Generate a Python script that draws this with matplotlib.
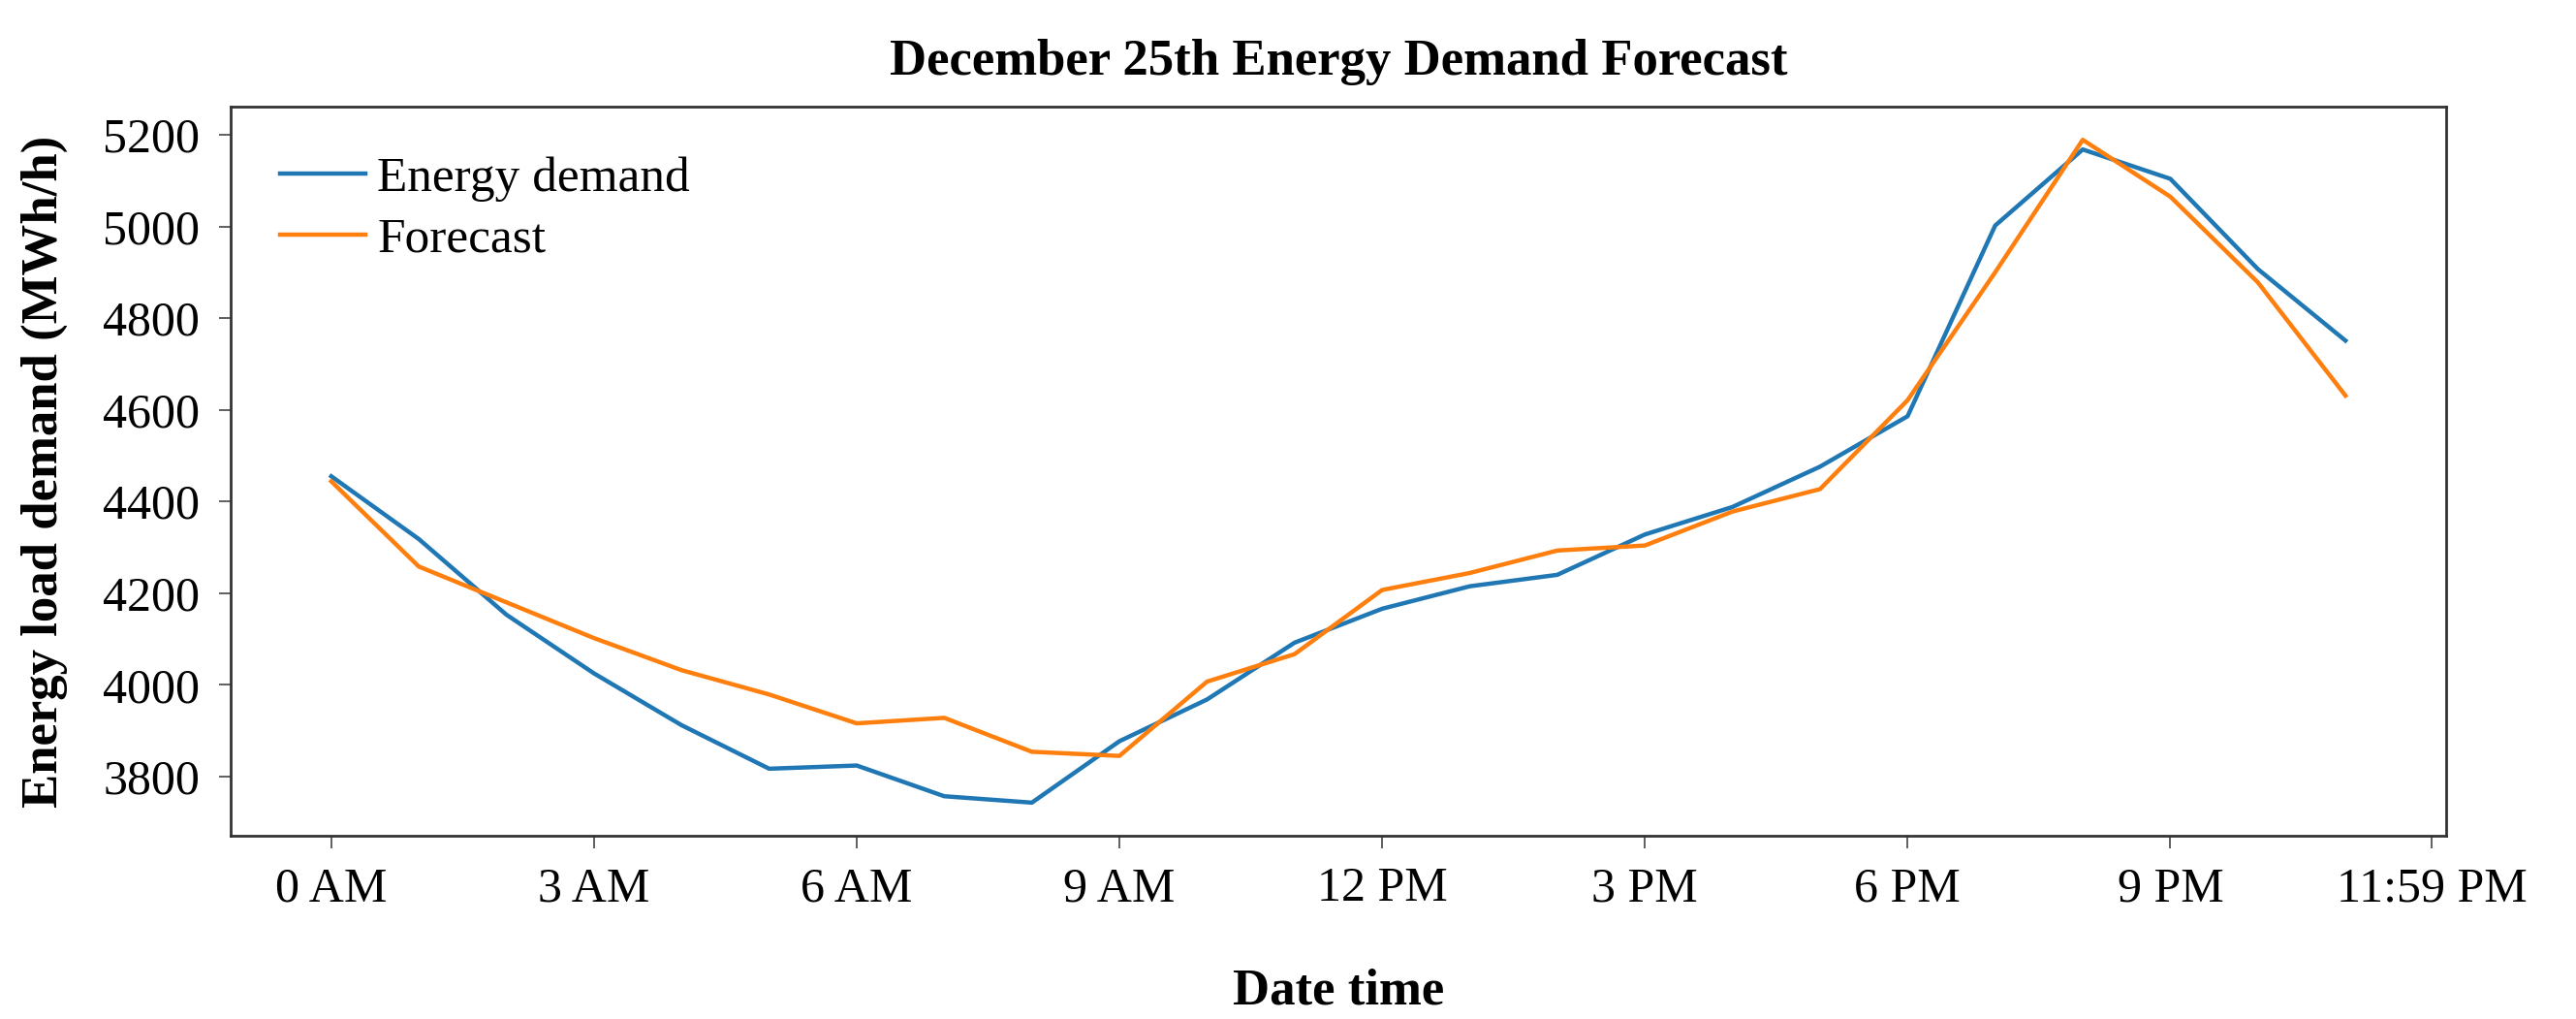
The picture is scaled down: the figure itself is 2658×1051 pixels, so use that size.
import numpy as np
import matplotlib
matplotlib.use("Agg")
import matplotlib.pyplot as plt

plt.rcParams['font.family'] = ['Liberation Serif', 'DejaVu Serif']

# hourly values, December 25th (0h .. 23h)
hours = list(range(24))
energy_demand = [4455, 4318, 4153, 4025, 3912, 3817, 3824, 3757, 3743, 3877, 3968, 4092,
                 4166, 4215, 4240, 4328, 4388, 4476, 4586, 5002, 5168, 5104, 4907, 4751]
forecast = [4444, 4258, 4180, 4102, 4032, 3979, 3916, 3928, 3854, 3845, 4007, 4067,
            4207, 4244, 4293, 4304, 4378, 4427, 4621, 4900, 5189, 5065, 4878, 4631]

tick_pos = [0, 3, 6, 9, 12, 15, 18, 21, 23 + 59 / 60]
tick_labels = ["0 AM", "3 AM", "6 AM", "9 AM", "12 PM", "3 PM", "6 PM", "9 PM", "11:59 PM"]

fig = plt.figure(figsize=(26.58, 10.51), dpi=100)
ax = fig.add_axes([0.0895, 0.1798, 0.8601, 0.7155])

ax.plot(hours, energy_demand, color="#1f77b4", lw=3.2, label="Energy demand")
ax.plot(hours, forecast, color="#ff7f0e", lw=3.2, label="Forecast")

ax.set_xticks(tick_pos)
ax.set_xticklabels(tick_labels)
ax.set_yticks([3800, 4000, 4200, 4400, 4600, 4800, 5000, 5200])
ax.tick_params(labelsize=36, length=9, width=1.2, color="#444444", pad=14)

for s in ax.spines.values():
    s.set_linewidth(2.0)
    s.set_color("#333333")

ax.set_title("December 25th Energy Demand Forecast", fontsize=38, fontweight="bold", pad=24)
ax.set_xlabel("Date time", fontsize=38, fontweight="bold", labelpad=42)
ax.set_ylabel("Energy load demand (MWh/h)", fontsize=38, fontweight="bold", labelpad=26)

ax.legend(loc="upper left", fontsize=37, frameon=False, handlelength=1.7,
          handletextpad=0.25, labelspacing=0.3, borderaxespad=0.6)

fig.savefig("out.png", dpi=100)
